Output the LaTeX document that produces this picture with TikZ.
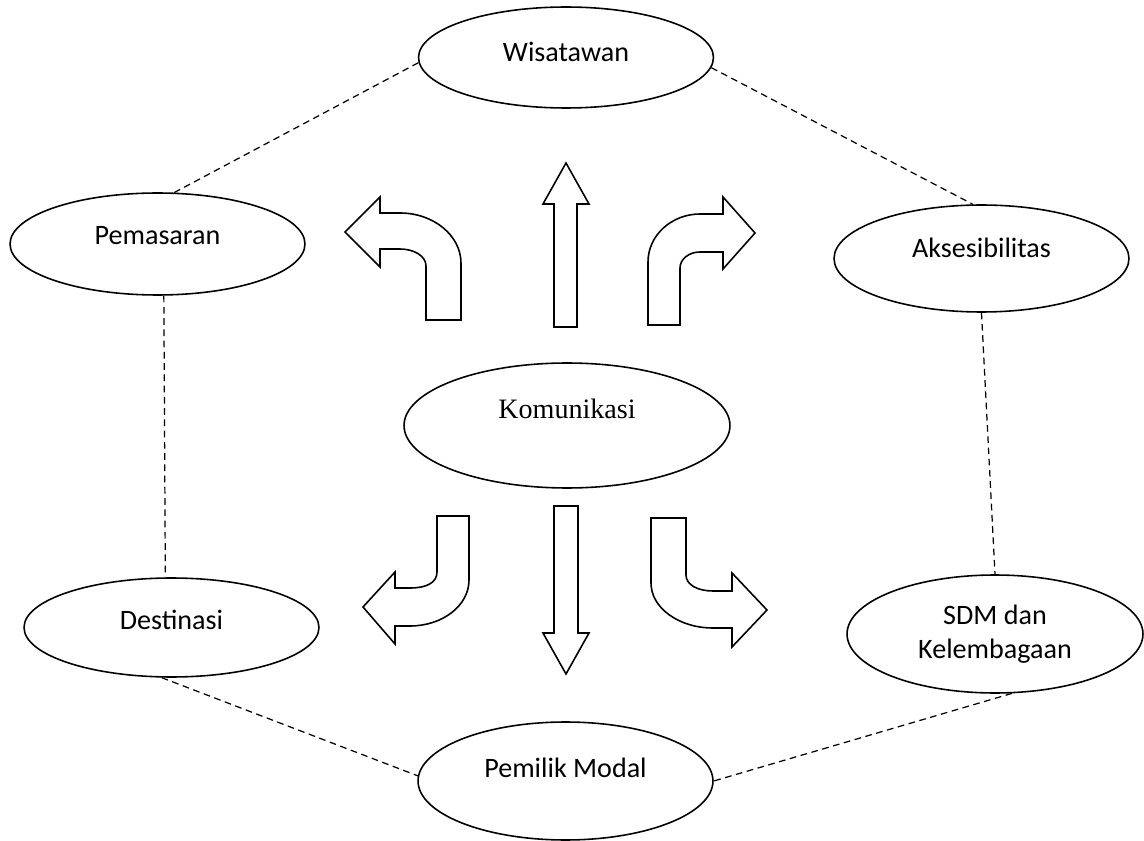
\documentclass[tikz,border=0pt]{standalone}
\usepackage{fontspec}
\setmainfont{Carlito}
\newfontfamily\timesfont{Liberation Serif}
\usetikzlibrary{shapes.geometric}

\begin{document}
\begin{tikzpicture}[x=0.02cm,y=-0.02cm,
  oval/.style={draw,ellipse,line width=0.9pt,minimum width=5.9cm,inner sep=0pt,font=\fontsize{16}{19.5}\selectfont},
  link/.style={dash pattern=on 3.8pt off 2.6pt,line width=0.7pt},
  bendarrow/.style={draw,line width=0.9pt,line join=miter}]
  \useasboundingbox (0,0) rectangle (1144,841);
  % ellipses
  \node[oval,minimum height=2.02cm,text depth=7pt] (wis) at (566,57.5) {Wisatawan};
  \node[oval,minimum height=2.04cm,text depth=9.5pt] (pem) at (157.5,244) {Pemasaran};
  \node[oval,minimum height=2.14cm,text depth=12.5pt] (aks) at (981.5,258.5) {Aksesibilitas};
  \node[oval,minimum width=6.52cm,minimum height=2.5cm,text depth=19pt,font=\timesfont\fontsize{16}{19}\selectfont] (kom) at (567,425.5) {Komunikasi};
  \node[oval,minimum height=1.98cm,text depth=8.5pt] (dest) at (171.5,627.5) {Destinasi};
  \node[oval,minimum width=5.92cm,minimum height=2.36cm,align=center] (sdm) at (995,634) {SDM dan\\Kelembagaan};
  \node[oval,minimum height=2.36cm,text depth=15pt] (pmod) at (565.5,781) {Pemilik Modal};
  % dashed ring
  \foreach \a/\b in {pem.72/wis.182,wis.356/aks.99,pem.277/dest.97,aks.south/sdm.north,dest.259/pmod.178,sdm.286/pmod.0}
    \draw[link] (\a) -- (\b);
  % block arrows above
  \draw[bendarrow] (461,320) -- (461,263) .. controls (461,236) and (434,213) .. (400,213) -- (380,213) -- (380,197) -- (345,232) -- (380,267) -- (380,249) -- (400,249) .. controls (414,249) and (426,256) .. (426,266) -- (426,320) -- cycle;
  \draw[bendarrow] (554,327) -- (554,204) -- (543,204) -- (566,163) -- (589,204) -- (577,204) -- (577,327) -- cycle;
  \draw[bendarrow] (648,325) -- (648,262) .. controls (648,235) and (672,214) .. (700,214) -- (723,214) -- (723,197) -- (755,233) -- (723,269) -- (723,252) -- (700,252) .. controls (689,252) and (680,259) .. (680,268) -- (680,325) -- cycle;
  % block arrows below
  \draw[bendarrow] (437,516) -- (469,516) -- (469,580) .. controls (469,606) and (442,626) .. (410,626) -- (395,626) -- (395,644) -- (363,607) -- (395,572) -- (395,588) -- (410,588) .. controls (426,588) and (437,583) .. (437,572) -- cycle;
  \draw[bendarrow] (554,506) -- (578,506) -- (578,633) -- (589,633) -- (566,674) -- (543,633) -- (554,633) -- cycle;
  \draw[bendarrow] (651,518) -- (686,518) -- (686,575) .. controls (686,585) and (698,591) .. (713,591) -- (732,591) -- (732,573) -- (767,610) -- (732,647) -- (732,628) -- (713,628) .. controls (679,628) and (651,608) .. (651,583) -- cycle;
\end{tikzpicture}
\end{document}
